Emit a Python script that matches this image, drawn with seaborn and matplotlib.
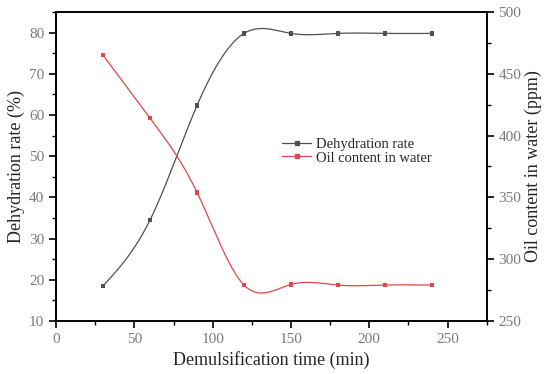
import matplotlib
matplotlib.use("Agg")
import matplotlib.pyplot as plt
import numpy as np
import pandas as pd
import seaborn as sns
from matplotlib.lines import Line2D
from matplotlib.ticker import MultipleLocator

# data
time_min = [30, 60, 90, 120, 150, 180, 210, 240]
dehydration = [18.5, 34.5, 62.3, 79.8, 79.8, 79.8, 79.8, 79.8]
oil_ppm = [465, 414, 354, 279, 279.5, 279, 279, 279]


def natural_spline(x, y, n=300):
    # plain natural cubic spline, like Origin's "spline" connect
    x = np.asarray(x, float)
    y = np.asarray(y, float)
    k = len(x)
    h = np.diff(x)
    A = np.zeros((k, k))
    b = np.zeros(k)
    A[0, 0] = A[-1, -1] = 1
    for i in range(1, k - 1):
        A[i, i - 1] = h[i - 1]
        A[i, i] = 2 * (h[i - 1] + h[i])
        A[i, i + 1] = h[i]
        b[i] = 6 * ((y[i + 1] - y[i]) / h[i] - (y[i] - y[i - 1]) / h[i - 1])
    m = np.linalg.solve(A, b)
    xs = np.linspace(x[0], x[-1], n)
    j = np.clip(np.searchsorted(x, xs) - 1, 0, k - 2)
    t0 = xs - x[j]
    t1 = x[j + 1] - xs
    hj = h[j]
    ys = (m[j] * t1 ** 3 + m[j + 1] * t0 ** 3) / (6 * hj) \
        + (y[j] / hj - m[j] * hj / 6) * t1 + (y[j + 1] / hj - m[j + 1] * hj / 6) * t0
    return xs, ys


sns.set_style("ticks")
plt.rcParams["font.family"] = ["Liberation Serif", "DejaVu Serif"]

gray = "#505050"
red = "#e0474c"
tick_col = "#7a7a7a"

fig = plt.figure(figsize=(5.5, 3.74), dpi=100)
ax = fig.add_axes([0.102, 0.142, 0.783, 0.826])
ax2 = ax.twinx()

df = pd.DataFrame({"time": time_min, "dehyd": dehydration, "oil": oil_ppm})

xs, ys = natural_spline(time_min, dehydration)
sns.lineplot(x=xs, y=ys, ax=ax, color=gray, lw=0.9)
sns.scatterplot(data=df, x="time", y="dehyd", ax=ax, color=gray, marker="s", s=10,
                edgecolor="none")
xs2, ys2 = natural_spline(time_min, oil_ppm)
sns.lineplot(x=xs2, y=ys2, ax=ax2, color=red, lw=0.9)
sns.scatterplot(data=df, x="time", y="oil", ax=ax2, color=red, marker="s", s=10,
                edgecolor="none")

ax.set_xlim(0, 275)
ax.set_ylim(10, 85)
ax2.set_ylim(250, 500)
ax.xaxis.set_major_locator(MultipleLocator(50))
ax.xaxis.set_minor_locator(MultipleLocator(25))
ax.yaxis.set_major_locator(MultipleLocator(10))
ax.yaxis.set_minor_locator(MultipleLocator(5))
ax2.yaxis.set_major_locator(MultipleLocator(50))
ax2.yaxis.set_minor_locator(MultipleLocator(25))

for a in (ax, ax2):
    for s in a.spines.values():
        s.set_visible(True)
        s.set_linewidth(1.2)
        s.set_color("black")
    a.tick_params(which="major", direction="out", length=5, width=1.2,
                  labelsize=11, labelcolor=tick_col, color="black")
    a.tick_params(which="minor", direction="out", length=3, width=1, color="black")

ax.set_xlabel("Demulsification time (min)", fontsize=13, labelpad=4)
ax.set_ylabel("Dehydration rate (%)", fontsize=13, labelpad=3)
ax2.set_ylabel("Oil content in water (ppm)", fontsize=13, labelpad=2)

handles = [
    Line2D([], [], color=gray, lw=0.9, marker="s", markersize=3),
    Line2D([], [], color=red, lw=0.9, marker="s", markersize=3),
]
ax.legend(handles, ["Dehydration rate", "Oil content in water"], loc="center left",
          bbox_to_anchor=(0.494, 0.55), frameon=False, fontsize=10.5,
          handlelength=2.0, handletextpad=0.3, labelspacing=0.05)

fig.savefig("out.png", dpi=100)
